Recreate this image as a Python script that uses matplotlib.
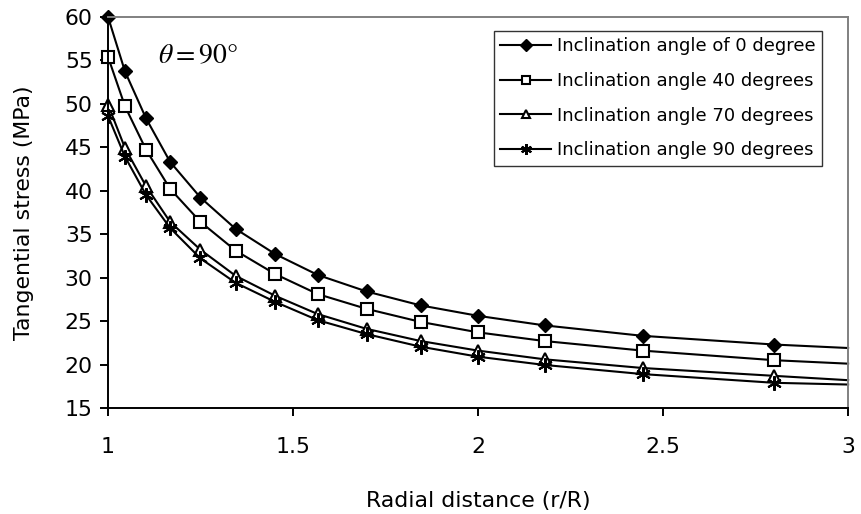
import matplotlib
matplotlib.use("Agg")
import matplotlib.pyplot as plt

plt.rcParams['font.family'] = ['DejaVu Sans']
plt.rcParams['mathtext.fontset'] = 'stix'

# radial distance r/R
radial = [1.0, 1.046, 1.103, 1.168, 1.25, 1.345, 1.452, 1.567, 1.699, 1.845,
          2.0, 2.18, 2.445, 2.8, 3.0]

# tangential stress (MPa) per inclination angle
stress_0 = [60.0, 53.7, 48.3, 43.3, 39.2, 35.6, 32.7, 30.3, 28.4, 26.8,
            25.6, 24.5, 23.3, 22.3, 21.9]
stress_40 = [55.4, 49.7, 44.7, 40.2, 36.4, 33.1, 30.4, 28.1, 26.4, 24.9,
             23.7, 22.7, 21.6, 20.5, 20.1]
stress_70 = [49.9, 44.9, 40.5, 36.4, 33.2, 30.2, 27.9, 25.8, 24.1, 22.7,
             21.6, 20.6, 19.6, 18.7, 18.2]
stress_90 = [48.6, 43.9, 39.5, 35.7, 32.2, 29.4, 27.2, 25.1, 23.5, 22.05,
             20.9, 19.95, 18.9, 17.9, 17.7]

labels = ['Inclination angle of 0 degree', 'Inclination angle 40 degrees',
          'Inclination angle 70 degrees', 'Inclination angle 90 degrees']

fig = plt.figure(figsize=(8.61, 5.14), dpi=100)
ax = fig.add_axes([0.1254, 0.2062, 0.8596, 0.7613])

marks = list(range(len(radial) - 1))
lw = 1.5
ax.plot(radial, stress_0, color='black', lw=lw, marker='D', ms=7.5,
        mfc='black', mec='black', markevery=marks, label=labels[0], clip_on=False)
ax.plot(radial, stress_40, color='black', lw=lw, marker='s', ms=8.5,
        mfc='white', mec='black', mew=1.5, markevery=marks, label=labels[1], clip_on=False)
ax.plot(radial, stress_70, color='black', lw=lw, marker='^', ms=8.5,
        mfc='white', mec='black', mew=1.5, markevery=marks, label=labels[2], clip_on=False)
ax.plot(radial, stress_90, color='black', lw=lw, marker=(6, 2, 0), ms=10.5,
        mec='black', mew=1.5, markevery=marks, label=labels[3], clip_on=False)

ax.set_xlim(1, 3)
ax.set_ylim(15, 60)
ax.set_xticks([1, 1.5, 2, 2.5, 3])
ax.set_xticklabels(['1', '1.5', '2', '2.5', '3'])
ax.set_yticks(range(15, 61, 5))

for s in ['left', 'bottom']:
    ax.spines[s].set_color('black')
    ax.spines[s].set_linewidth(1.4)
for s in ['top', 'right']:
    ax.spines[s].set_color('#808080')
    ax.spines[s].set_linewidth(1.4)

ax.tick_params(axis='y', direction='out', length=6, width=1.4, labelsize=15.8, pad=5)
ax.tick_params(axis='x', direction='out', length=6, width=1.4, labelsize=15.8, pad=15)

ax.set_xlabel('Radial distance (r/R)', fontsize=15.8, labelpad=24)
ax.set_ylabel('Tangential stress (MPa)', fontsize=15.8, labelpad=22)

ax.text(0.068, 0.9, r'$\theta = 90\degree$', transform=ax.transAxes,
        fontsize=20, ha='left', va='center')

leg = ax.legend(loc='upper right', bbox_to_anchor=(0.965, 0.964), fontsize=13,
                frameon=True, fancybox=False, handlelength=2.8, markerscale=0.75,
                borderpad=0.35, labelspacing=0.93, handletextpad=0.35,
                borderaxespad=0)
leg.get_frame().set_edgecolor('black')
leg.get_frame().set_linewidth(1.0)

fig.savefig('out.png', dpi=100)
